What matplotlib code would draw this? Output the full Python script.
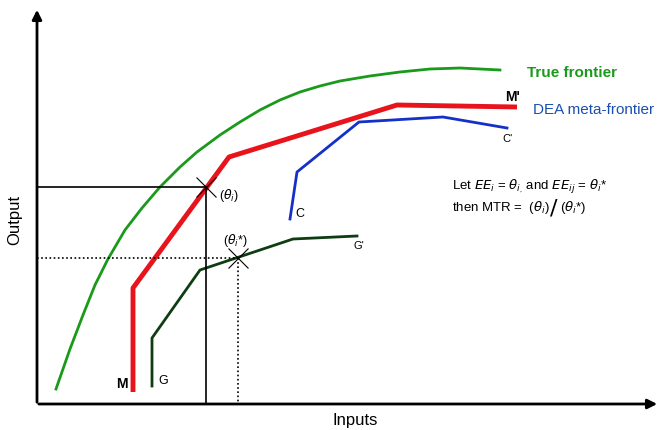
import matplotlib.pyplot as plt

plt.rcParams['font.family'] = ['Liberation Sans', 'DejaVu Sans']

# schematic coordinates (pixel-like units, y grows downward)
true_x = [56, 70, 83, 95, 108, 125, 142, 160, 180, 197, 220, 240, 260,
          280, 300, 320, 340, 370, 400, 430, 460, 480, 500]
true_y = [390, 350, 316, 286, 260, 231, 209, 188, 168, 153, 136, 123, 111,
          101, 93, 87, 82, 77, 73, 70, 69, 70, 71]

meta_x = [133, 133, 229, 397, 517]
meta_y = [393, 289, 158, 106, 108]

c_x = [290, 297, 359, 443, 507]
c_y = [220, 173, 123, 118, 129]

g_x = [152, 152, 200, 293, 357]
g_y = [387, 339, 271, 240, 237]

theta_pt = (206, 188)
theta_star_pt = (238, 259)

fig = plt.figure(figsize=(6.61, 4.31), dpi=100)
ax = fig.add_axes([0, 0, 1, 1])
ax.set_xlim(0, 661)
ax.set_ylim(431, 0)
ax.axis('off')

# axes with arrows
ax.annotate('', xy=(37, 8), xytext=(37, 406),
            arrowprops=dict(arrowstyle='-|>', color='black', lw=2, mutation_scale=14))
ax.annotate('', xy=(660, 405), xytext=(36, 405),
            arrowprops=dict(arrowstyle='-|>', color='black', lw=2, mutation_scale=14))

# frontiers
ax.plot(true_x, true_y, color='#1a9a1a', lw=2)
ax.plot(meta_x, meta_y, color='#e8141b', lw=3.5, solid_capstyle='butt')
ax.plot(c_x, c_y, color='#1530c8', lw=2)
ax.plot(g_x, g_y, color='#0f3d12', lw=2)

# projection lines
ax.plot([37, theta_pt[0], theta_pt[0]], [theta_pt[1], theta_pt[1], 405], color='black', lw=1.2)
ax.plot([37, theta_star_pt[0]], [theta_star_pt[1], theta_star_pt[1]], color='black', lw=1.2, ls=(0, (1, 1.5)))
ax.plot([theta_star_pt[0], theta_star_pt[0]], [theta_star_pt[1], 405], color='black', lw=1.2, ls=(0, (1, 1.5)))
ax.plot(*theta_pt, marker='x', ms=14, mew=0.8, color='black')
ax.plot(*theta_star_pt, marker='x', ms=14, mew=0.8, color='black')

# labels
ax.text(15, 220, 'Output', rotation=90, ha='center', va='center', fontsize=12)
ax.text(355, 421, 'Inputs', ha='center', va='center', fontsize=12)
ax.text(527, 73, 'True frontier', color='#1a9a1a', fontsize=11, fontweight='bold', va='center')
ax.text(505, 97, "M'", fontsize=10, fontweight='bold', va='center')
ax.text(533, 110, 'DEA meta-frontier', color='#1a4fb0', fontsize=11, va='center')
ax.text(502, 139, "C'", fontsize=8, va='center')
ax.text(295, 214, 'C', fontsize=9, va='center')
ax.text(353, 246, "G'", fontsize=8, va='center')
ax.text(158, 381, 'G', fontsize=9, va='center')
ax.text(116, 384, 'M', fontsize=10, fontweight='bold', va='center')
ax.text(219, 196, r'($\theta_i$)', fontsize=9, va='center')
ax.text(223, 241, r'($\theta_i$*)', fontsize=9, va='center')
ax.text(452, 187, r'Let $EE_i$ = $\theta_{i_\mathrm{,}}$ and $EE_{ij}$ = $\theta_i$*',
        fontsize=9.5, va='center')
ax.text(452, 208, r'then MTR =  ($\theta_i$)', fontsize=9.5, va='center')
ax.text(554, 209, r'$/$', fontsize=16, va='center', ha='center', color='black')
ax.text(560, 208, r'($\theta_i$*)', fontsize=9.5, va='center')

fig.savefig('out.png', dpi=100)
